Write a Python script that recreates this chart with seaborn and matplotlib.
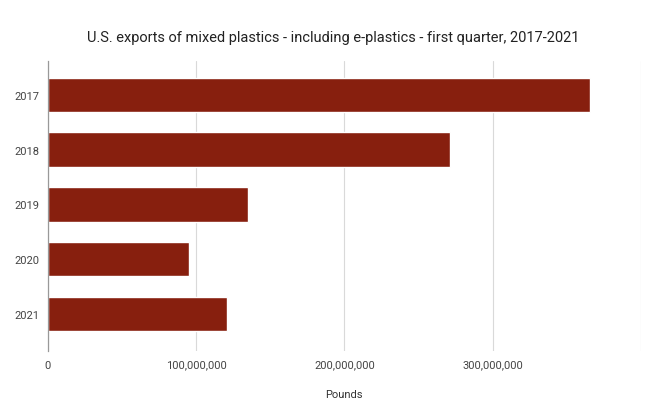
import pandas as pd
import matplotlib
matplotlib.use("Agg")
import matplotlib.pyplot as plt
import seaborn as sns

sns.set_theme(style="white")
plt.rcParams['font.family'] = ['Roboto', 'DejaVu Sans']

# data
years = ["2017", "2018", "2019", "2020", "2021"]
pounds = [365500000, 271000000, 135000000, 95500000, 120500000]
tick_values = [0, 100000000, 200000000, 300000000, 400000000]
tick_labels = ["0", "100,000,000", "200,000,000", "300,000,000", ""]

df = pd.DataFrame({"year": years, "pounds": pounds})

fig = plt.figure(figsize=(6.66, 4.10), dpi=100)
ax = fig.add_axes([0.072, 0.141, 0.890, 0.708])

sns.barplot(data=df, x="pounds", y="year", color="#871f0e",
            width=0.63, saturation=1, ax=ax, zorder=3)

ax.set_xlim(0, 400000000)
ax.set_ylim(4.68, -0.62)
ax.set_xticks(tick_values)
ax.set_xticklabels(tick_labels)
ax.grid(axis="x", color="#d9d9d9", linewidth=0.8, zorder=0)
ax.grid(axis="y", visible=False)

for s in ["top", "right", "bottom"]:
    ax.spines[s].set_visible(False)
ax.spines["left"].set_color("#999999")
ax.spines["left"].set_linewidth(0.9)
ax.spines["left"].set_zorder(4)

ax.tick_params(axis="both", length=0, labelsize=8, colors="#444444", pad=6)
ax.set_xlabel("Pounds", fontsize=8, color="#333333", labelpad=14)
ax.set_ylabel("")
fig.suptitle("U.S. exports of mixed plastics - including e-plastics - first quarter, 2017-2021",
             y=0.925, fontsize=10.5, color="#222222")

fig.savefig("out.png", dpi=100)
